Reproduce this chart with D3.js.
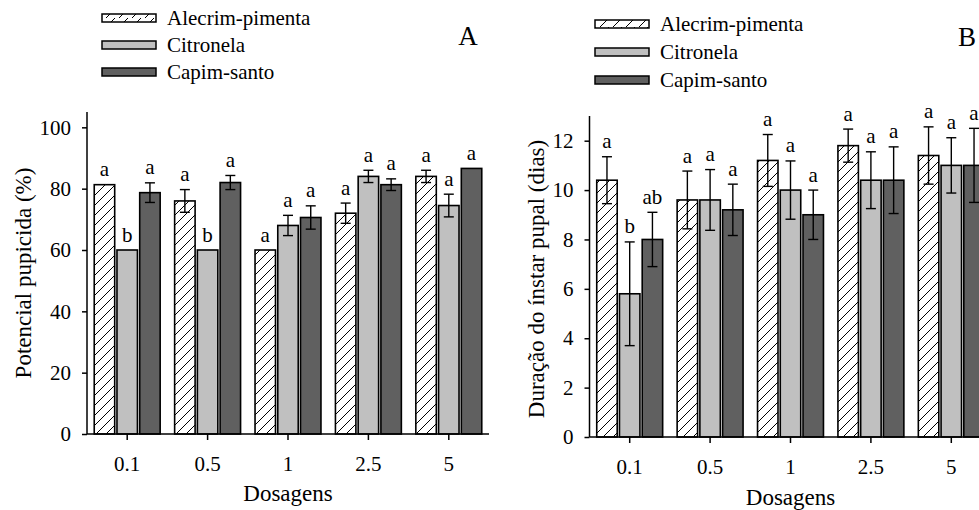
<!DOCTYPE html>
<html><head><meta charset="utf-8">
<script src="https://cdn.jsdelivr.net/npm/d3@7"></script>
<style>body{margin:0;background:#fff}svg{display:block}</style>
</head><body>
<svg id="c" width="979" height="510"></svg>
<script>
const dosages = ["0.1","0.5","1","2.5","5"];
const seriesNames = ["Alecrim-pimenta","Citronela","Capim-santo"];

// Panel A: Potencial pupicida (%)
const aAlecrim   = [81.3, 76.0, 60.0, 72.0, 84.0];
const aCitronela = [60.0, 60.0, 68.0, 84.0, 74.5];
const aCapim     = [78.7, 82.0, 70.6, 81.3, 86.6];
const aErrAlecrim   = [0, 3.7, 0, 3.3, 2.0];
const aErrCitronela = [0, 0, 3.3, 2.0, 3.7];
const aErrCapim     = [3.2, 2.3, 3.8, 1.9, 0];
const aLetAlecrim   = ["a","a","a","a","a"];
const aLetCitronela = ["b","b","a","a","a"];
const aLetCapim     = ["a","a","a","a","a"];
const aTicks = [0,20,40,60,80,100];

// Panel B: Duração do ínstar pupal (dias)
const bAlecrim   = [10.4, 9.6, 11.2, 11.8, 11.4];
const bCitronela = [5.8, 9.6, 10.0, 10.4, 11.0];
const bCapim     = [8.0, 9.2, 9.0, 10.4, 11.0];
const bErrAlecrim   = [0.95, 1.17, 1.05, 0.67, 1.16];
const bErrCitronela = [2.1, 1.23, 1.18, 1.15, 1.12];
const bErrCapim     = [1.1, 1.04, 1.0, 1.35, 1.5];
const bLetAlecrim   = ["a","a","a","a","a"];
const bLetCitronela = ["b","a","a","a","a"];
const bLetCapim     = ["ab","a","a","a","a"];
const bTicks = [0,2,4,6,8,10,12];

const FONT = "'Liberation Serif','Times New Roman',serif";
const fills = ["url(#hatch)", "#c0c0c0", "#606060"];
const svg = d3.select("#c");

const defs = svg.append("defs");
const hp = defs.append("pattern").attr("id","hatch").attr("patternUnits","userSpaceOnUse")
  .attr("width",10).attr("height",10);
hp.append("rect").attr("width",10).attr("height",10).attr("fill","#fff");
hp.append("path").attr("d","M-1,11 L11,-1 M-1,1 L1,-1 M9,11 L11,9").attr("stroke","#000").attr("stroke-width",1);
const hl = defs.append("pattern").attr("id","hatchL").attr("patternUnits","userSpaceOnUse")
  .attr("width",13).attr("height",9);
hl.append("rect").attr("width",13).attr("height",9).attr("fill","#fff");
hl.append("path").attr("d","M2,9 L11,0").attr("stroke","#000").attr("stroke-width",1);

function panel(cfg){
  const g = svg.append("g");
  const x0 = d3.scaleBand().domain(dosages).range([cfg.x0, cfg.x1]).paddingInner(0.18).paddingOuter(0.09);
  const x1 = d3.scaleBand().domain(seriesNames).range([0, x0.bandwidth()]).paddingInner(0.1);
  const y = d3.scaleLinear().domain(cfg.ydom).range([cfg.yb, cfg.yt]);

  const rows = [];
  dosages.forEach((d,i)=>{
    seriesNames.forEach((s,j)=>{
      rows.push({d, s, j, v: cfg.vals[j][i], e: cfg.errs[j][i], l: cfg.lets[j][i]});
    });
  });

  g.selectAll("rect.bar").data(rows).join("rect").attr("class","bar")
    .attr("x", r=>x0(r.d)+x1(r.s)).attr("width", x1.bandwidth())
    .attr("y", r=>y(r.v)).attr("height", r=>y(0)-y(r.v))
    .attr("fill", r=>fills[r.j]).attr("stroke","#000").attr("stroke-width",1.6);

  const eg = g.selectAll("g.err").data(rows.filter(r=>r.e>0)).join("g").attr("class","err");
  const cx = r=>x0(r.d)+x1(r.s)+x1.bandwidth()/2;
  eg.append("line").attr("x1",cx).attr("x2",cx).attr("y1",r=>y(r.v+r.e)).attr("y2",r=>y(r.v-r.e))
    .attr("stroke","#000").attr("stroke-width",1.4);
  eg.append("line").attr("x1",r=>cx(r)-5).attr("x2",r=>cx(r)+5).attr("y1",r=>y(r.v+r.e)).attr("y2",r=>y(r.v+r.e))
    .attr("stroke","#000").attr("stroke-width",1.4);
  eg.append("line").attr("x1",r=>cx(r)-5).attr("x2",r=>cx(r)+5).attr("y1",r=>y(r.v-r.e)).attr("y2",r=>y(r.v-r.e))
    .attr("stroke","#000").attr("stroke-width",1.4);

  g.selectAll("text.let").data(rows).join("text").attr("class","let")
    .attr("x", cx).attr("y", r=>y(r.v+r.e)-8.5)
    .attr("text-anchor","middle").attr("font-family",FONT).attr("font-size",21).text(r=>r.l);

  const xa = g.append("g").attr("transform",`translate(0,${cfg.yb})`)
    .call(d3.axisBottom(x0).tickSize(6).tickSizeOuter(0).tickPadding(16));
  xa.select(".domain").attr("d",`M${cfg.x0},0H${cfg.x1}`);
  const ya = g.append("g").attr("transform",`translate(${cfg.x0},0)`)
    .call(d3.axisLeft(y).tickValues(cfg.ticks).tickFormat(d3.format("d")).tickSize(5).tickSizeOuter(0).tickPadding(11));
  ya.select(".domain").attr("d",`M0,${cfg.yt}V${cfg.yb}`);
  [xa,ya].forEach(a=>{
    a.attr("font-family",FONT);
    a.selectAll("path,line").attr("stroke","#000").attr("stroke-width",1.5);
    a.selectAll("text").attr("font-family",FONT).attr("font-size",21).attr("fill","#000");
  });

  g.append("text").attr("x",(cfg.x0+cfg.x1)/2).attr("y",cfg.xtY).attr("text-anchor","middle")
    .attr("font-family",FONT).attr("font-size",23).text("Dosagens");
  g.append("text").attr("transform",`translate(${cfg.ytX},${cfg.ytMid}) rotate(-90)`).attr("text-anchor","middle")
    .attr("dominant-baseline","central").attr("font-family",FONT).attr("font-size",23).text(cfg.ytitle);

  const lg = g.append("g");
  seriesNames.forEach((s,j)=>{
    const yy = cfg.legY[j];
    lg.append("rect").attr("x",cfg.legX).attr("y",yy-4).attr("width",54).attr("height",8)
      .attr("fill", j===0 ? "url(#hatchL)" : fills[j]).attr("stroke","#000").attr("stroke-width",1.5);
    lg.append("text").attr("x",cfg.legX+65).attr("y",yy).attr("dominant-baseline","central")
      .attr("font-family",FONT).attr("font-size",21).text(s);
  });
  g.append("text").attr("x",cfg.lblX).attr("y",cfg.lblY).attr("text-anchor","middle").attr("dominant-baseline","central")
    .attr("font-family",FONT).attr("font-size",27).text(cfg.label);
}

panel({x0:87, x1:489, yb:434, yt:112, ydom:[0,105], ticks:aTicks,
  vals:[aAlecrim,aCitronela,aCapim], errs:[aErrAlecrim,aErrCitronela,aErrCapim], lets:[aLetAlecrim,aLetCitronela,aLetCapim],
  xtY:501, ytX:23, ytMid:273, ytitle:"Potencial pupicida (%)",
  legX:102, legY:[18,45,72], label:"A", lblX:468, lblY:36});
panel({x0:589.5, x1:991.5, yb:437, yt:116, ydom:[0,13], ticks:bTicks,
  vals:[bAlecrim,bCitronela,bCapim], errs:[bErrAlecrim,bErrCitronela,bErrCapim], lets:[bLetAlecrim,bLetCitronela,bLetCapim],
  xtY:505, ytX:536, ytMid:279, ytitle:"Duração do ínstar pupal (dias)",
  legX:595, legY:[24,52,80], label:"B", lblX:967, lblY:37});
</script>
</body></html>
